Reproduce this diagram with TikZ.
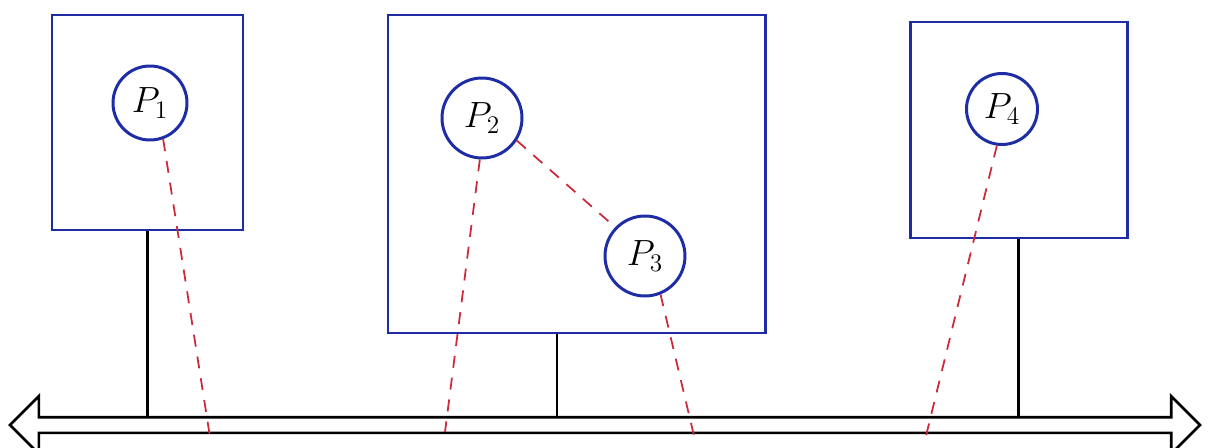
\documentclass[tikz,border=0pt]{standalone}
\usepackage{tikz}
\usetikzlibrary{shapes.arrows}
\usepackage{xcolor}
\definecolor{penblue}{RGB}{30,45,165}
\definecolor{penred}{RGB}{205,40,60}

\begin{document}
\begin{tikzpicture}[
  machine/.style={draw=penblue, line width=1.7pt, minimum width=#1, inner sep=0pt},
  proc/.style={circle, draw=penblue, line width=1.7pt, minimum size=#1, inner sep=0pt, font=\huge},
  link/.style={line width=1.3pt},
  comm/.style={penred, line width=1pt, dash pattern=on 0.24cm off 0.2cm},
  busline/.style={double arrow, draw, line width=1.5pt, double arrow head extend=0.42cm,
    minimum height=23.8cm, inner xsep=0pt, inner ysep=0.13cm},
]
  \useasboundingbox (0,0) rectangle (24.24,8.94);
  % machines
  \node[machine=3.82cm, minimum height=4.30cm] (left) at (2.95,6.49) {};
  \node[machine=7.54cm, minimum height=6.36cm] (mid) at (11.53,5.46) {};
  \node[machine=4.34cm, minimum height=4.32cm] (right) at (20.37,6.34) {};
  % processes
  \node[proc=1.48cm] (p1) at (3.0,6.88) {$P_1$};
  \node[proc=1.6cm] (p2) at (9.64,6.58) {$P_2$};
  \node[proc=1.6cm] (p3) at (12.9,3.82) {$P_3$};
  \node[proc=1.42cm] (p4) at (20.04,6.76) {$P_4$};
  % bus
  \node[busline] (bus) at (12.1,0.44) {};
  \coordinate (bustop) at (0,0.62);
  \draw[link] (left.south) -- (left.south |- bustop);
  \draw[link] ([xshift=-0.39cm]mid.south) -- ([xshift=-0.39cm]mid.south |- bustop);
  \draw[link] (right.south) -- (right.south |- bustop);
  % communication
  \coordinate (e1) at (4.2,0.2);
  \coordinate (e2) at (8.9,0.3);
  \coordinate (e3) at (13.9,0.14);
  \coordinate (e4) at (18.5,0.14);
  \draw[comm] (p1.-70) -- (e1);
  \draw[comm] (p2.-93) -- (e2);
  \draw[comm] (p2.-33) -- (p3.136);
  \draw[comm] (p3.-68) -- (e3);
  \draw[comm] (p4.-98) -- (e4);
\end{tikzpicture}
\end{document}
